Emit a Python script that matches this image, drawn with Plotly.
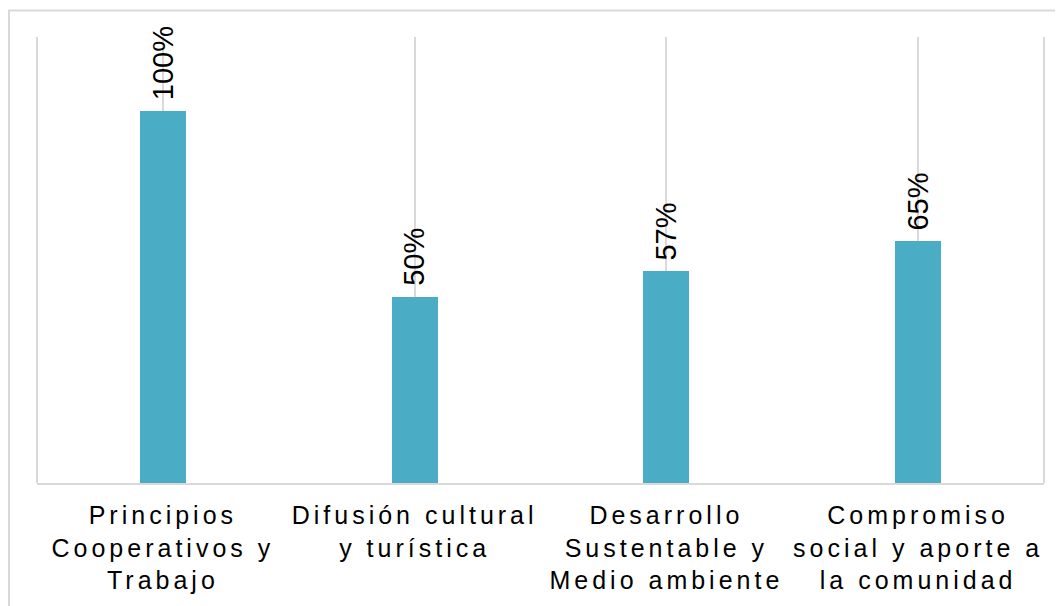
import plotly.graph_objects as go

categories = [
    "Principios<br>Cooperativos y<br>Trabajo",
    "Difusión cultural<br>y turística",
    "Desarrollo<br>Sustentable y<br>Medio ambiente",
    "Compromiso<br>social y aporte a<br>la comunidad",
]
values = [1.00, 0.50, 0.57, 0.65]
value_labels = ["100%", "50%", "57%", "65%"]

FONT = "Arial, Liberation Sans, sans-serif"
BAR_COLOR = "#4BACC6"
GRID = "#D9D9D9"

def spaced(label):
    return "<br>".join(
        '<span style="letter-spacing:4px">' + part + "</span>" for part in label.split("<br>")
    )

fig = go.Figure()
fig.add_trace(go.Bar(
    x=list(range(len(categories))),
    y=values,
    width=0.183,
    marker=dict(color=BAR_COLOR, line=dict(width=0)),
    hoverinfo="skip",
))

for i, (v, t) in enumerate(zip(values, value_labels)):
    fig.add_annotation(
        x=i, y=v, text=t, showarrow=False, textangle=-90,
        xanchor="center", yanchor="bottom", yshift=9,
        font=dict(family=FONT, size=29, color="#000000"),
    )

# page has an 8px body margin; figure coordinates are offset accordingly
OFF = 8
W, H = 1063 - OFF, 606 - OFF
L, R, T, B = 37 - OFF, 19, 37 - OFF, 122 - OFF
pw, ph = W - L - R, H - T - B
def px(x):
    return (x - OFF - L) / pw
def py(y):
    return (H - B - (y - OFF)) / ph

fig.add_shape(type="rect", xref="paper", yref="paper",
              x0=px(9), x1=px(1075), y0=py(10), y1=py(620),
              line=dict(color=GRID, width=2), fillcolor="rgba(0,0,0,0)", layer="below")

# outer category boundary lines (plot-area edges)
for xb in (0, 1):
    fig.add_shape(type="line", xref="paper", yref="paper", x0=xb, x1=xb, y0=0, y1=1,
                  line=dict(color=GRID, width=2), layer="above")

fig.update_layout(
    width=W, height=H,
    margin=dict(l=L, r=R, t=T, b=B),
    paper_bgcolor="white", plot_bgcolor="white",
    showlegend=False,
    bargap=0,
    font=dict(family=FONT, color="#000000"),
    xaxis=dict(
        range=[-0.5, len(categories) - 0.5],
        tickmode="array",
        tickvals=list(range(len(categories))),
        ticktext=[spaced(c) for c in categories],
        tickson="boundaries",
        ticks="",
        ticklabelstandoff=9,
        showgrid=True, gridcolor=GRID, gridwidth=2,
        showline=True, linecolor=GRID, linewidth=2,
        tickfont=dict(family=FONT, size=25, color="#000000"),
        zeroline=False,
        fixedrange=True,
    ),
    yaxis=dict(
        range=[0, 1.2],
        showgrid=False, zeroline=False, showticklabels=False, showline=False,
        fixedrange=True,
    ),
)

fig.write_html("out.html")
